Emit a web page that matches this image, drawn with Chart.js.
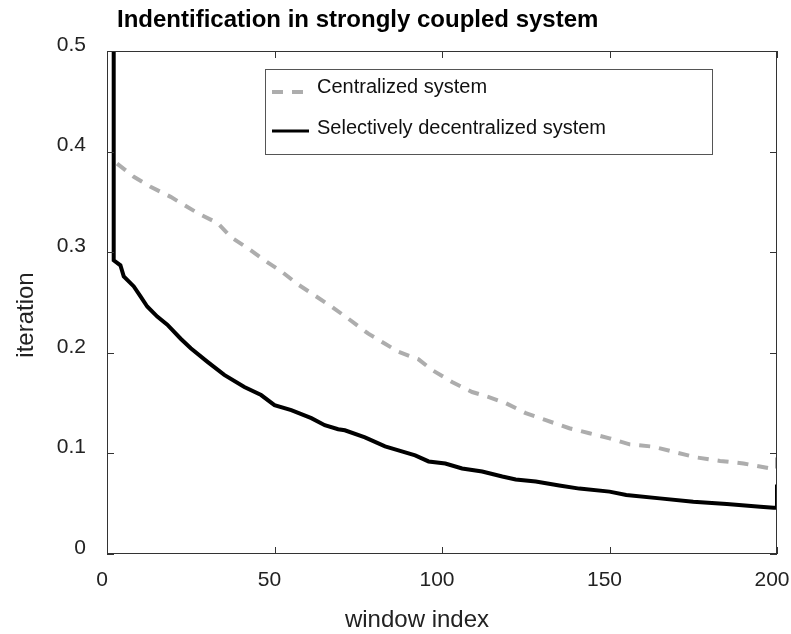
<!DOCTYPE html>
<html lang="en">
<head>
<meta charset="UTF-8">
<title>Indentification in strongly coupled system</title>
<script src="https://cdn.jsdelivr.net/npm/chart.js"></script>
<style>
  * { margin: 0; padding: 0; }
  body { background: #fff; }
  #wrap { width: 791px; height: 634px; }
</style>
</head>
<body>
<div id="wrap"><canvas id="chart" width="791" height="634"></canvas></div>
<script>
// series: window index / value
const centralX   = [3, 8, 13, 19, 23, 27, 33, 37, 42, 47, 52, 57, 62, 67, 72, 78, 83, 87, 93, 97,
                    103, 109, 114, 119, 125, 131, 138, 144, 150, 156, 163, 169, 176, 183, 190, 198, 200, 200];
const centralY   = [0.388, 0.375, 0.365, 0.355, 0.347, 0.339, 0.329, 0.315, 0.304, 0.292, 0.281, 0.268,
                    0.257, 0.246, 0.234, 0.219, 0.209, 0.201, 0.1935, 0.183, 0.171, 0.161, 0.156, 0.150,
                    0.140, 0.133, 0.125, 0.120, 0.115, 0.109, 0.1067, 0.1017, 0.096, 0.0925, 0.090, 0.085,
                    0.085, 0.103];
const selectiveX = [2, 2, 4, 5, 8, 10, 12, 15, 18, 22, 25, 30, 35, 41, 46, 50, 55, 61, 65, 69, 71, 77,
                    83, 87, 92, 96, 101, 106, 112, 118, 122, 128, 135, 141, 150, 155, 165, 175, 185, 195,
                    199, 200, 200];
const selectiveY = [0.5, 0.292, 0.287, 0.276, 0.266, 0.256, 0.246, 0.236, 0.228, 0.214, 0.2045, 0.191,
                    0.178, 0.166, 0.158, 0.148, 0.143, 0.135, 0.128, 0.124, 0.123, 0.116, 0.107, 0.103,
                    0.098, 0.092, 0.090, 0.085, 0.082, 0.077, 0.074, 0.072, 0.068, 0.065, 0.062, 0.0586,
                    0.0553, 0.052, 0.0497, 0.047, 0.046, 0.046, 0.069];
const seriesNames = ['Centralized system', 'Selectively decentralized system'];
const xTicks = [0, 50, 100, 150, 200];
const yTicks = [0, 0.1, 0.2, 0.3, 0.4, 0.5];
const chartTitle = 'Indentification in strongly coupled system';
const xTitle = 'window index';
const yTitle = 'iteration';

const FONT = '"Liberation Sans", Arial, Helvetica, sans-serif';
const AXIS = '#333333';

const toPoints = (xs, ys) => xs.map((x, i) => ({ x, y: ys[i] }));

// keep the plot box fixed: no extra room for overhanging end labels
const noOverhang = s => { s.paddingLeft = 0; s.paddingRight = 0; s.paddingTop = 0; s.paddingBottom = 0; };

// box, inward tick marks, titles and the legend
const decorations = {
  id: 'decorations',
  afterDraw(chart) {
    const { ctx, chartArea: a, scales: { x, y } } = chart;
    ctx.save();
    ctx.strokeStyle = AXIS;
    ctx.lineWidth = 1;
    ctx.strokeRect(a.left + 0.5, a.top + 0.5, a.right - a.left - 1, a.bottom - a.top - 1);
    const tl = 7;
    ctx.beginPath();
    xTicks.forEach(v => {
      const px = Math.round(x.getPixelForValue(v)) + 0.5;
      ctx.moveTo(px, a.bottom); ctx.lineTo(px, a.bottom - tl);
      ctx.moveTo(px, a.top); ctx.lineTo(px, a.top + tl);
    });
    yTicks.forEach(v => {
      const py = Math.round(y.getPixelForValue(v)) + 0.5;
      ctx.moveTo(a.left, py); ctx.lineTo(a.left + tl, py);
      ctx.moveTo(a.right, py); ctx.lineTo(a.right - tl, py);
    });
    ctx.stroke();

    // titles
    ctx.fillStyle = '#000';
    ctx.textBaseline = 'alphabetic';
    ctx.font = 'bold 24px ' + FONT;
    ctx.textAlign = 'left';
    ctx.fillText(chartTitle, 117, 27);
    ctx.fillStyle = '#222';
    ctx.font = '24px ' + FONT;
    ctx.textAlign = 'center';
    ctx.fillText(xTitle, 417, 627);
    ctx.save();
    ctx.translate(33, 315);
    ctx.rotate(-Math.PI / 2);
    ctx.fillText(yTitle, 0, 0);
    ctx.restore();

    // legend
    const lx = 265, ly = 69, lw = 447, lh = 85;
    ctx.fillStyle = '#fff';
    ctx.fillRect(lx, ly, lw, lh);
    ctx.strokeStyle = '#555';
    ctx.strokeRect(lx + 0.5, ly + 0.5, lw, lh);
    ctx.font = '20px ' + FONT;
    ctx.textAlign = 'left';
    const rows = [{ y: 92, base: 93 }, { y: 131, base: 134 }];
    chart.data.datasets.forEach((ds, i) => {
      ctx.save();
      ctx.strokeStyle = ds.borderColor;
      ctx.lineWidth = i === 0 ? 4 : 3;
      ctx.setLineDash(ds.borderDash || []);
      ctx.beginPath();
      ctx.moveTo(272, rows[i].y);
      ctx.lineTo(i === 0 ? 305 : 309, rows[i].y);
      ctx.stroke();
      ctx.restore();
      ctx.fillStyle = '#111';
      ctx.fillText(ds.label, 317, rows[i].base);
    });
    ctx.restore();
  }
};

new Chart(document.getElementById('chart'), {
  type: 'line',
  data: {
    datasets: [
      {
        label: seriesNames[0],
        data: toPoints(centralX, centralY),
        borderColor: '#adadad',
        borderWidth: 4,
        borderDash: [11, 9],
        pointRadius: 0,
        tension: 0
      },
      {
        label: seriesNames[1],
        data: toPoints(selectiveX, selectiveY),
        borderColor: '#000000',
        borderWidth: 4,
        pointRadius: 0,
        tension: 0
      }
    ]
  },
  options: {
    responsive: false,
    animation: false,
    layout: { padding: { top: 51, right: 14, left: 0, bottom: 0 } },
    plugins: { legend: { display: false }, title: { display: false }, tooltip: { enabled: false } },
    scales: {
      x: {
        type: 'linear', min: 0, max: 200,
        afterBuildTicks: s => { s.ticks = xTicks.map(v => ({ value: v })); },
        afterFit: s => { s.height = 80; noOverhang(s); },
        grid: { display: false, drawTicks: false },
        border: { display: false },
        ticks: { font: { family: FONT, size: 21 }, color: '#222', padding: 14, labelOffset: -5, maxRotation: 0 }
      },
      y: {
        type: 'linear', min: 0, max: 0.5,
        afterBuildTicks: s => { s.ticks = yTicks.map(v => ({ value: v })); },
        afterFit: s => { s.width = 107; noOverhang(s); },
        grid: { display: false, drawTicks: false },
        border: { display: false },
        ticks: { font: { family: FONT, size: 21 }, color: '#222', padding: 21, labelOffset: -6 }
      }
    }
  },
  plugins: [decorations]
});
</script>
</body>
</html>
